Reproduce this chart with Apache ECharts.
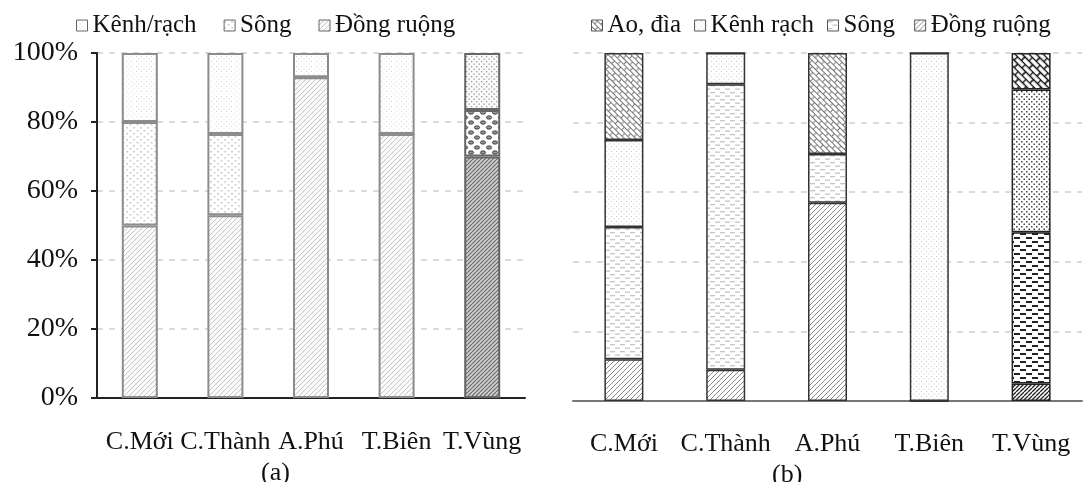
<!DOCTYPE html>
<html>
<head>
<meta charset="utf-8">
<script src="https://cdn.jsdelivr.net/npm/echarts@6/dist/echarts.min.js"></script>
<style>html,body{margin:0;padding:0;background:#fff}#c{width:1084px;height:482px}</style>
</head>
<body>
<div id="c"></div>
<script>
// ---- data ----
const categories = ['C.Mới', 'C.Thành', 'A.Phú', 'T.Biên', 'T.Vùng'];
const yTicks = [0, 20, 40, 60, 80, 100];
// panel (a)
const aDongRuong = [50, 53, 93, 76.5, 70];
const aSong = [30, 23.5, 0, 0, 13.5];
const aKenhRach = [20, 23.5, 7, 23.5, 16.5];
// panel (b)
const bDongRuong = [12, 9, 57, 0, 5];
const bSong = [38, 82, 14, 0, 43.5];
const bKenhRach = [25, 9, 0, 100, 41];
const bAoDia = [25, 0, 29, 0, 10.5];
const legendA = ['Kênh/rạch', 'Sông', 'Đồng ruộng'];
const legendB = ['Ao, đìa', 'Kênh rạch', 'Sông', 'Đồng ruộng'];

// ---- patterns ----
function tile(w, h, bg, draw, extra) {
  const c = document.createElement('canvas');
  c.width = w; c.height = h;
  const g = c.getContext('2d');
  g.fillStyle = bg; g.fillRect(0, 0, w, h);
  draw(g, w, h);
  return Object.assign({ image: c, repeat: 'repeat' }, extra || {});
}
function diag(s, bg, col, lw) {
  return tile(s, s, bg, (g) => {
    g.strokeStyle = col; g.lineWidth = lw; g.beginPath();
    for (const x0 of [-s, 0, s]) { g.moveTo(x0, s); g.lineTo(x0 + s, 0); }
    g.stroke();
  });
}
function dots(w, h, bg, col, r) {
  return tile(w, h, bg, (g) => {
    g.fillStyle = col;
    g.fillRect(1, 1, r, r);
    g.fillRect(1 + w / 2, 1 + h / 2, r, r);
  });
}
function dashes(w, h, bg, col, len, th) {
  return tile(w, h, bg, (g) => {
    g.fillStyle = col;
    g.fillRect(0, 1, len, th);
    g.fillRect(w / 2, 1 + h / 2, len, th);
    g.fillRect(w / 2 - w, 1 + h / 2, len, th);
  });
}
function brick(w, h, bg, col, lw) {
  return tile(w, h, bg, (g) => {
    g.strokeStyle = col; g.lineWidth = lw; g.beginPath();
    g.moveTo(0, 0.5); g.lineTo(w, 0.5);
    g.moveTo(0, h / 2 + 0.5); g.lineTo(w, h / 2 + 0.5);
    g.moveTo(0.5, 0); g.lineTo(0.5, h / 2);
    g.moveTo(w / 2 + 0.5, h / 2); g.lineTo(w / 2 + 0.5, h);
    g.stroke();
  }, { rotation: Math.PI / 4 });
}
function ovals() {
  return tile(12, 10, '#fff', (g) => {
    g.fillStyle = '#9a9a9a'; g.strokeStyle = '#333'; g.lineWidth = 1;
    for (const [x, y] of [[3, 2.5], [9, 7.5], [-3, 7.5], [15, 2.5]]) {
      g.beginPath(); g.ellipse(x, y, 2.6, 1.6, 0, 0, Math.PI * 2); g.fill(); g.stroke();
    }
  });
}
const P = {
  aDiag: diag(5, '#fafafa', '#c6c6c6', 1),
  aDiagDark: diag(4, '#cfcfcf', '#6a6a6a', 1.2),
  aSong: dashes(7, 6, '#fff', '#cfcfcf', 2, 1.5),
  aSongDark: ovals(),
  aKenh: dots(5, 5, '#fff', '#d6d6d6', 1),
  aKenhDark: dots(5, 5, '#fafafa', '#9a9a9a', 1.3),
  bDiag: diag(5, '#fff', '#8a8a8a', 1),
  bDiagDark: diag(4, '#fff', '#222', 1.3),
  bSong: dashes(10, 7, '#fff', '#c4c4c4', 5, 1.3),
  bSongDark: dashes(12, 8, '#fff', '#222', 6, 2),
  bKenh: dots(5, 5, '#fff', '#c6c6c6', 1),
  bKenhDark: dots(5, 5, '#fff', '#444', 1.5),
  bAo: brick(9, 8, '#fff', '#777', 1),
  bAoDark: brick(11, 10, '#fff', '#111', 1.6)
};

const FONT = "'Liberation Serif', 'DejaVu Serif', serif";
const TXT = '#111';

function items(vals, normal, dark, border, darkBorder, bw) {
  return vals.map((v, i) => {
    const isLast = i === vals.length - 1;
    return {
      value: v,
      itemStyle: { color: isLast ? dark : normal, borderColor: isLast ? darkBorder : border, borderWidth: bw }
    };
  });
}

const gridA = { left: 97, top: 53, width: 428, height: 345 };
const gridB = { left: 573, top: 53, width: 509, height: 348 };

const option = {
  animation: false,
  backgroundColor: '#fff',
  title: [
    { text: '(a)', left: 256, top: 455, textStyle: { fontFamily: FONT, fontSize: 26, fontWeight: 'normal', color: TXT } },
    { text: '(b)', left: 767, top: 457, textStyle: { fontFamily: FONT, fontSize: 26, fontWeight: 'normal', color: TXT } }
  ],
  legend: [
    {
      left: 71, top: 8, width: 460, itemWidth: 11, itemHeight: 11, itemGap: 27, icon: 'rect',
      textStyle: { fontFamily: FONT, fontSize: 25, color: TXT },
      data: [
        { name: legendA[0], itemStyle: { color: P.aKenh, borderColor: '#666', borderWidth: 1 } },
        { name: legendA[1], itemStyle: { color: P.aSong, borderColor: '#666', borderWidth: 1 } },
        { name: legendA[2], itemStyle: { color: P.aDiag, borderColor: '#666', borderWidth: 1 } }
      ]
    },
    {
      left: 586, top: 8, width: 494, itemWidth: 11, itemHeight: 11, itemGap: 13, icon: 'rect',
      textStyle: { fontFamily: FONT, fontSize: 25, color: TXT },
      data: [
        { name: legendB[0], itemStyle: { color: P.bAo, borderColor: '#555', borderWidth: 1 } },
        { name: legendB[1], itemStyle: { color: P.bKenh, borderColor: '#555', borderWidth: 1 } },
        { name: 'Sông ', itemStyle: { color: P.bSong, borderColor: '#555', borderWidth: 1 } },
        { name: 'Đồng ruộng ', itemStyle: { color: P.bDiag, borderColor: '#555', borderWidth: 1 } }
      ]
    }
  ],
  grid: [gridA, gridB],
  xAxis: [
    {
      type: 'category', gridIndex: 0, data: categories,
      axisLine: { lineStyle: { color: '#222', width: 2 } },
      axisTick: { length: 7, lineStyle: { color: '#222', width: 2 } },
      axisLabel: { interval: 0, fontFamily: FONT, fontSize: 26, color: TXT, margin: 31 }
    },
    {
      type: 'category', gridIndex: 1, data: categories,
      axisLine: { lineStyle: { color: '#777', width: 2 } },
      axisTick: { length: 8, lineStyle: { color: '#777', width: 2 } },
      axisLabel: { interval: 0, fontFamily: FONT, fontSize: 26, color: TXT, margin: 30 }
    }
  ],
  yAxis: [
    {
      type: 'value', gridIndex: 0, min: yTicks[0], max: yTicks[yTicks.length - 1], interval: 20,
      axisLine: { show: true, lineStyle: { color: '#222', width: 2 } },
      axisTick: { show: true, length: 6, lineStyle: { color: '#222', width: 2 } },
      axisLabel: { fontFamily: FONT, fontSize: 28, color: TXT, margin: 19, formatter: '{value}%' },
      splitLine: { lineStyle: { color: '#cfcfcf', width: 1.5, type: [6, 6] } }
    },
    {
      type: 'value', gridIndex: 1, min: yTicks[0], max: yTicks[yTicks.length - 1], interval: 20,
      axisLine: { show: false }, axisTick: { show: false }, axisLabel: { show: false },
      splitLine: { lineStyle: { color: '#cfcfcf', width: 1.5, type: [6, 6] } }
    }
  ],
  series: [
    { name: legendA[2], type: 'bar', stack: 'a', xAxisIndex: 0, yAxisIndex: 0, barWidth: 36,
      data: items(aDongRuong, P.aDiag, P.aDiagDark, '#8c8c8c', '#666', 2) },
    { name: legendA[1], type: 'bar', stack: 'a', xAxisIndex: 0, yAxisIndex: 0, barWidth: 36,
      data: items(aSong, P.aSong, P.aSongDark, '#8c8c8c', '#666', 2) },
    { name: legendA[0], type: 'bar', stack: 'a', xAxisIndex: 0, yAxisIndex: 0, barWidth: 36,
      data: items(aKenhRach, P.aKenh, P.aKenhDark, '#8c8c8c', '#666', 2) },

    { name: 'Đồng ruộng ', type: 'bar', stack: 'b', xAxisIndex: 1, yAxisIndex: 1, barWidth: 39,
      data: items(bDongRuong, P.bDiag, P.bDiagDark, '#333', '#222', 1.5) },
    { name: 'Sông ', type: 'bar', stack: 'b', xAxisIndex: 1, yAxisIndex: 1, barWidth: 39,
      data: items(bSong, P.bSong, P.bSongDark, '#333', '#222', 1.5) },
    { name: legendB[1], type: 'bar', stack: 'b', xAxisIndex: 1, yAxisIndex: 1, barWidth: 39,
      data: items(bKenhRach, P.bKenh, P.bKenhDark, '#333', '#222', 1.5) },
    { name: legendB[0], type: 'bar', stack: 'b', xAxisIndex: 1, yAxisIndex: 1, barWidth: 39,
      data: items(bAoDia, P.bAo, P.bAoDark, '#333', '#222', 1.5) }
  ]
};
const chart = echarts.init(document.getElementById('c'), null, { renderer: 'canvas' });
chart.setOption(option);
</script>
</body>
</html>
